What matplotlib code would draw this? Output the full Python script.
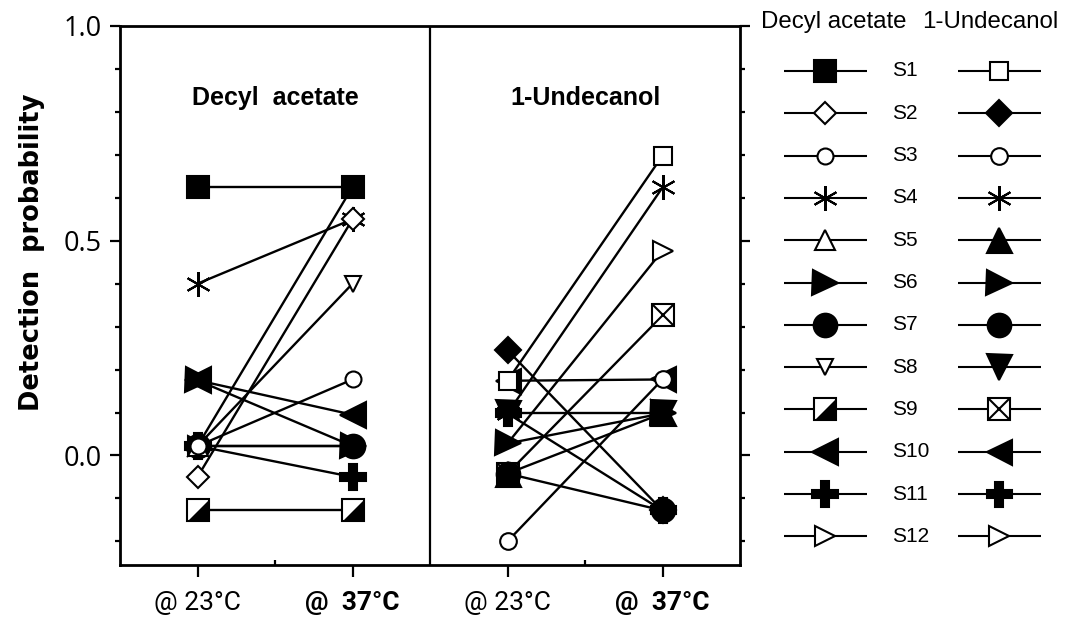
import matplotlib
matplotlib.use("Agg")
import matplotlib.pyplot as plt
from matplotlib.ticker import FixedLocator, MultipleLocator

# ---------------- data ----------------
series = ["S1", "S2", "S3", "S4", "S5", "S6", "S7", "S8", "S9", "S10", "S11", "S12"]
conditions = ["@ 23°C", "@  37°C"]
compounds = ["Decyl  acetate", "1-Undecanol"]
legend_headers = ["Decyl acetate", "1-Undecanol"]

decyl_23 = [0.625, -0.05, 0.022, 0.40, 0.022, 0.175, 0.022, 0.022, -0.128, 0.175, 0.022, 0.022]
decyl_37 = [0.625, 0.55, 0.177, 0.55, 0.625, 0.022, 0.022, 0.40, -0.128, 0.095, -0.05, 0.022]
undec_23 = [0.174, 0.245, -0.20, 0.098, -0.042, 0.028, -0.042, 0.098, -0.042, 0.174, 0.098, 0.028]
undec_37 = [0.698, -0.128, 0.177, 0.624, 0.098, 0.098, -0.128, 0.098, 0.326, 0.177, -0.128, 0.477]

y_major = [0.0, 0.5, 1.0]
y_labels = ["0.0", "0.5", "1.0"]

# ---------------- styles ----------------
AST = (6, 2, 0)
decyl_style = [("s", "k", 16.5), ("D", "w", 11.5), ("o", "w", 11.5), (AST, "k", 18),
               ("^", "w", 15), (">", "k", 18), ("o", "k", 17), ("v", "w", 12),
               ("half", "w", 16.5), ("<", "k", 19), ("P", "k", 19), (">", "w", 14)]
undec_style = [("s", "w", 13), ("D", "k", 13.5), ("o", "w", 12), (AST, "k", 18),
               ("^", "k", 18), (">", "k", 18), ("o", "k", 17), ("v", "k", 18),
               ("xsq", "w", 16), ("<", "k", 18), ("P", "k", 18), (">", "w", 14)]
LW = 1.7
MEW = 1.5

W, H = 1070, 626
fig = plt.figure(figsize=(W / 100, H / 100), dpi=100)
ax = fig.add_axes([120 / W, 1 - 565 / H, 620 / W, (565 - 26) / H])


def draw(axis, xs, ys, style, z, lw=LW, every=None):
    m, fc, ms = style
    base = "s" if m in ("half", "xsq") else m
    axis.plot(xs, ys, color="k", lw=lw, marker=base, ms=ms, mfc=fc, mec="k",
              mew=MEW, zorder=z, solid_capstyle="butt", markevery=every)
    if m == "half":
        axis.plot(xs, ys, ls="none", marker=[(-1, -1), (1, -1), (1, 1)], ms=ms,
                  mfc="k", mec="k", mew=0.5, zorder=z, markevery=every)
    elif m == "xsq":
        axis.plot(xs, ys, ls="none", marker="x", ms=ms, mec="k", mew=MEW, zorder=z,
                  markevery=every)


xpos = [0.5, 1.5, 2.5, 3.5]
for i in range(len(series)):
    z = 30 - i
    draw(ax, xpos[0:2], [decyl_23[i], decyl_37[i]], decyl_style[i], z)
    draw(ax, xpos[2:4], [undec_23[i], undec_37[i]], undec_style[i], z)

ax.axvline(2, color="k", lw=1.6, zorder=2)
ax.set_xlim(0, 4)
ax.set_ylim(-0.255, 1.0)

for sp in ax.spines.values():
    sp.set_linewidth(2.0)

ax.xaxis.set_major_locator(FixedLocator(xpos))
ax.set_xticklabels(conditions * 2)
ax.xaxis.set_minor_locator(FixedLocator([1, 3]))
ax.tick_params(axis="x", which="major", direction="out", length=8.5, width=1.6,
               pad=10.5, labelsize=19)
ax.tick_params(axis="x", which="minor", direction="in", length=3.6, width=1.6)
for k, t in enumerate(ax.get_xticklabels()):
    t.set_fontfamily("Roboto")
    if k % 2 == 1:
        t.set_fontweight("bold")

ax.yaxis.set_major_locator(FixedLocator(y_major))
ax.set_yticklabels(y_labels)
ax.yaxis.set_minor_locator(MultipleLocator(0.1))
ax.tick_params(axis="y", which="major", direction="out", length=7.5, width=1.6,
               pad=5.5, labelsize=19.5, left=True, right=True)
ax.tick_params(axis="y", which="minor", direction="out", length=3.6, width=1.6,
               left=True, right=True)
for t in ax.get_yticklabels():
    t.set_fontfamily("Open Sans")

for k, name in enumerate(compounds):
    ax.text(1.0 + 2 * k, 0.832, name, ha="center", va="center", fontsize=18,
            fontweight="bold", family="Liberation Sans")

fig.text(32 / W, 1 - 252 / H, "Detection  probability", rotation=90, ha="center",
         va="center", fontsize=18.5, fontweight="bold", family="DejaVu Sans")

# ---------------- legend panel ----------------
lax = fig.add_axes([740 / W, 0, (W - 740) / W, 1])
lax.set_xlim(740, W)
lax.set_ylim(H, 0)
lax.axis("off")

lax.text(834, 22, legend_headers[0], ha="center", va="center", fontsize=17.3,
         family="Liberation Sans")
lax.text(990, 22, legend_headers[1], ha="center", va="center", fontsize=17.3,
         family="Liberation Sans")

row0, dy = 71, 42.3
for i, name in enumerate(series):
    y = row0 + i * dy
    draw(lax, [784, 825, 867], [y, y, y], decyl_style[i], 10, lw=1.5, every=[1])
    lax.text(892, y, name, ha="left", va="center", fontsize=15, family="Liberation Sans")
    draw(lax, [958, 999, 1041], [y, y, y], undec_style[i], 10, lw=1.5, every=[1])

fig.savefig("out.png", dpi=100)
